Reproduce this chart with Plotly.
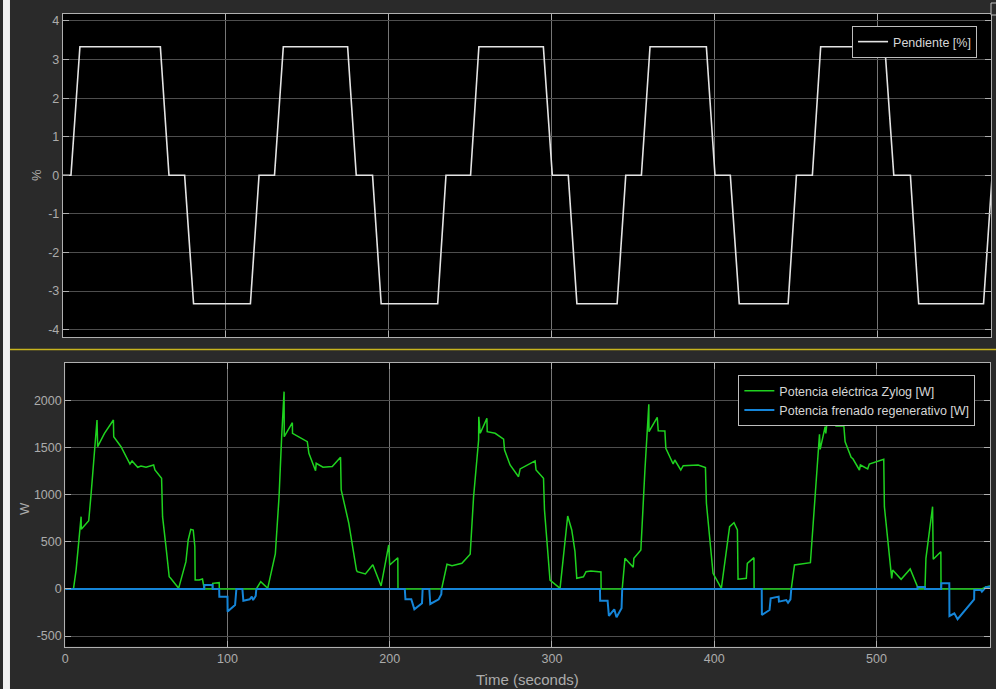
import plotly.graph_objects as go

W_FIG, H_FIG = 996, 689

# Road grade profile [%]
slope_t = [0, 5.0, 10.5, 59.9, 65.2, 74.8, 80.3, 115.2, 120.5, 130.0,
           135.4, 174.9, 180.2, 190.2, 195.5, 230.2, 235.3, 250.4,
           255.5, 295.1, 300.6, 310.4, 315.7, 340.4, 345.7, 355.3,
           360.6, 395.2, 400.5, 409.9, 415.4, 445.4, 450.5, 460.3,
           465.4, 504.8, 510.3, 520.5, 525.6, 565.4, 570.7]
slope_v = [0, 0, 3.33, 3.33, 0, 0, -3.33, -3.33, 0, 0,
           3.33, 3.33, 0, 0, -3.33, -3.33, 0, 0,
           3.33, 3.33, 0, 0, -3.33, -3.33, 0, 0,
           3.33, 3.33, 0, 0, -3.33, -3.33, 0, 0,
           3.33, 3.33, 0, 0, -3.33, -3.33, 0]

# Electrical power drawn by the Zylog drive [W]
elec_t = [0, 5.1, 6.7, 9.8, 9.9, 14.5, 15.9, 18.4, 19.6, 20.0, 24.2, 29.7,
          29.9, 34.4, 39.1, 39.9, 41.2, 44.7, 46.7, 49.8, 54.5, 55.3, 59.4,
          60.0, 62.1, 64.1, 65.0, 69.9, 74.4, 75.8, 77.4, 78.9, 79.9, 80.1,
          82.6, 84.6, 85.7, 90.8, 90.9, 94.9, 95.0, 117.8, 120.5, 124.8,
          129.5, 131.8, 133.4, 134.9, 135.0, 140.0, 140.1, 149.2, 150.2,
          154.3, 154.7, 158.9, 164.6, 169.7, 170.1, 174.8, 179.5, 180.0,
          185.0, 189.6, 194.7, 199.4, 200.0, 205.0, 205.1, 232.0, 235.3,
          238.4, 244.5, 249.6, 251.7, 254.8, 254.9, 255.8, 259.9, 260.1,
          265.0, 270.2, 270.8, 274.2, 279.4, 280.4, 289.6, 290.2, 294.8,
          295.4, 298.8, 305.0, 309.7, 312.2, 314.2, 315.3, 319.4, 321.0,
          324.0, 330.2, 330.3, 343.3, 345.0, 350.1, 350.5, 354.8, 357.3,
          359.7, 359.8, 364.9, 365.5, 369.6, 370.2, 374.7, 375.7, 379.4,
          380.9, 390.1, 394.6, 395.2, 399.3, 404.4, 409.5, 412.2, 414.3,
          414.7, 419.8, 420.4, 424.5, 424.6, 447.5, 449.5, 459.3, 460.2,
          464.5, 464.9, 465.3, 468.4, 468.8, 469.6, 474.8, 475.1, 479.9,
          480.7, 484.4, 485.5, 489.5, 490.1, 494.6, 495.6, 504.5, 504.9,
          509.4, 510.0, 515.2, 520.8, 525.3, 525.4, 529.9, 530.5, 534.6,
          535.0, 539.7, 539.8, 565.0, 567.4, 570.0]
elec_w = [0, 0, 200, 766, 632, 724, 996, 1491, 1791, 1508, 1650, 1791,
          1614, 1508, 1360, 1325, 1357, 1290, 1304, 1290, 1314, 1261, 1173,
          766, 448, 129, 112, 6, 289, 519, 632, 625, 448, 94,
          94, 105, 0, 0, 59, 66, 0, 0, 76, 6,
          370, 978, 1614, 2092, 1614, 1763, 1650, 1561, 1438,
          1254, 1332, 1290, 1297, 1396, 1049, 696, 200, 183,
          158, 257, 31, 466, 254, 331, 0, 0, 261,
          246, 271, 367, 978, 1579, 1826, 1650, 1809, 1667,
          1650, 1587, 1473, 1314, 1190, 1272, 1357, 1261, 1173,
          837, 94, 6, 773, 625, 395, 112, 129, 182,
          190, 179, 0, 0, 324, 229, 324, 413, 1261,
          1958, 1667, 1820, 1678, 1675, 1491, 1325, 1367, 1261,
          1307, 1314, 1286, 908, 165, 6, 660, 702, 625,
          102, 112, 271, 331, 0, 0, 254, 278, 484,
          1455, 1640, 1480, 1721, 1650, 1774, 1802, 1728, 1728,
          1561, 1396, 1380, 1261, 1314, 1272, 1325, 1375, 872,
          112, 200, 102, 211, 23, 0, 0, 324, 872,
          314, 395, 0, 0, 20, 30]

# Regenerative braking power [W]
regen_t = [0, 85.7, 85.8, 90.8, 90.9, 94.9, 95.0, 100.0, 100.1, 104.7,
           105.5, 109.2, 109.8, 113.7, 115.0, 115.8, 117.4, 117.8,
           209.3, 209.7, 213.3, 215.2, 219.9, 220.3, 224.4, 225.0, 230.2,
           231.8, 232.0, 329.6, 329.7, 334.3, 335.1, 338.4, 339.8, 342.9,
           343.3, 429.3, 429.4, 434.1, 434.8, 439.7, 439.9, 444.4, 445.5,
           447.0, 447.5, 525.3, 525.4, 529.9, 530.0, 539.9, 540.0, 544.9,
           545.0, 548.0, 550.0, 555.1, 560.2, 560.3, 564.3, 565.0, 567.4,
           570.0]
regen_w = [0, 0, 41, 41, 0, 0, -82, -82, -241, -171,
           0, 0, -125, -110, -82, -118, -75, 0,
           0, -110, -110, -216, -153, 0, 0, -160, -110,
           -57, 0, 0, -125, -125, -287, -216, -301, -206,
           0, 0, -277, -224, -100, -82, -135, -118, -146,
           -110, 0, 0, 20, 20, 0, 0, 59, 59,
           -287, -259, -322, -216, -110, -12, -12, -30, 17,
           23]

x_ticks = [0, 100, 200, 300, 400, 500]
slope_ticks = [-4, -3, -2, -1, 0, 1, 2, 3, 4]
power_ticks = [-500, 0, 500, 1000, 1500, 2000]


def px(x):
    return x / W_FIG


def py(y):
    return 1 - y / H_FIG


FONT = "Liberation Sans, Arial, sans-serif"
TICK_COL = "#acacac"
BOX_COL = "#b0b0b0"

fig = go.Figure()
fig.add_trace(go.Scatter(x=slope_t, y=slope_v, mode="lines", name="Pendiente [%]",
                         line=dict(color="#e4e4e4", width=1.6),
                         xaxis="x", yaxis="y", legend="legend"))
fig.add_trace(go.Scatter(x=elec_t, y=elec_w, mode="lines",
                         name="Potencia eléctrica Zylog [W]",
                         line=dict(color="#1fd21f", width=1.5),
                         xaxis="x2", yaxis="y2", legend="legend2"))
fig.add_trace(go.Scatter(x=regen_t, y=regen_w, mode="lines",
                         name="Potencia frenado regenerativo [W]",
                         line=dict(color="#1585d8", width=2),
                         xaxis="x2", yaxis="y2", legend="legend2"))

axis_common = dict(showline=True, mirror="ticks", linecolor=BOX_COL, linewidth=1,
                   ticks="inside", ticklen=6, tickcolor=BOX_COL,
                   zeroline=False, showgrid=True,
                   tickfont=dict(family=FONT, size=12.5, color=TICK_COL))

fig.update_layout(
    width=W_FIG, height=H_FIG,
    margin=dict(l=0, r=0, t=0, b=0),
    paper_bgcolor="#2a2a2a",
    plot_bgcolor="#000000",
    font=dict(family=FONT, color=TICK_COL),
    xaxis=dict(domain=[px(60), px(991)], range=[0, 570], tickvals=x_ticks,
               showticklabels=False, gridcolor="#767676", anchor="y", **axis_common),
    yaxis=dict(domain=[py(337), py(14)], range=[-4.19, 4.18], tickvals=slope_ticks,
               ticktext=[str(v) for v in slope_ticks],
               gridcolor="#4e4e4e", anchor="x", **axis_common),
    xaxis2=dict(domain=[px(62.4), px(990)], range=[0, 570], tickvals=x_ticks,
                ticktext=[str(v) for v in x_ticks],
                gridcolor="#767676", anchor="y2", **axis_common),
    yaxis2=dict(domain=[py(646.7), py(362.7)], range=[-613, 2399], tickvals=power_ticks,
                ticktext=[str(v) for v in power_ticks],
                gridcolor="#4e4e4e", anchor="x2", **axis_common),
    legend=dict(x=px(977), y=py(26), xanchor="right", yanchor="top",
                bgcolor="#000000", bordercolor="#bdbdbd", borderwidth=1,
                font=dict(family=FONT, size=12.5, color="#d6d6d6"),
                tracegroupgap=0),
    legend2=dict(x=px(975.3), y=py(375), xanchor="right", yanchor="top",
                 bgcolor="#000000", bordercolor="#bdbdbd", borderwidth=1,
                 font=dict(family=FONT, size=12.5, color="#d6d6d6"),
                 tracegroupgap=0),
    showlegend=True,
)

# Axis titles
fig.add_annotation(text="%", xref="paper", yref="paper", x=px(34), y=py(175),
                   xanchor="center", yanchor="middle",
                   textangle=-90, showarrow=False,
                   font=dict(family=FONT, size=13, color=TICK_COL))
fig.add_annotation(text="W", xref="paper", yref="paper", x=px(21), y=py(508),
                   xanchor="center", yanchor="middle",
                   textangle=-90, showarrow=False,
                   font=dict(family=FONT, size=13, color=TICK_COL))
fig.add_annotation(text="Time (seconds)", xref="paper", yref="paper",
                   x=px(526), y=py(679), xanchor="center", yanchor="middle",
                   showarrow=False,
                   font=dict(family=FONT, size=15, color=TICK_COL))

# Window chrome: left edge strip, panel separator, corner button
fig.add_shape(type="rect", xref="paper", yref="paper", x0=0, x1=px(7), y0=0, y1=1,
              fillcolor="#f0f0f0", line=dict(width=0))
fig.add_shape(type="line", xref="paper", yref="paper", x0=px(7), x1=1,
              y0=py(349.5), y1=py(349.5), line=dict(color="#c8b41e", width=1.5))
fig.add_shape(type="rect", xref="paper", yref="paper", x0=px(991), x1=px(999),
              y0=py(15), y1=py(3), line=dict(color="#c0c0c0", width=1),
              fillcolor="#2a2a2a")

fig.write_html("out.html")
